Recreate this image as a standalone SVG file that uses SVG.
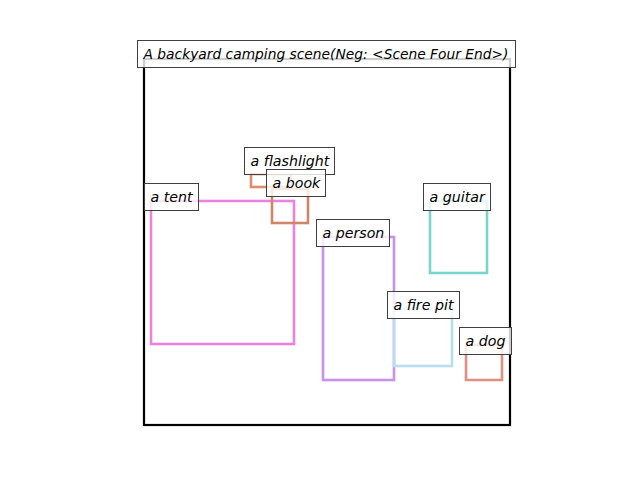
<svg xmlns="http://www.w3.org/2000/svg" width="640" height="480" viewBox="0 0 640 480">
<style>
.bb{fill:none;stroke-width:2.6}
.lb{fill:#ffffff;fill-opacity:0.8;stroke:#3f3f3f;stroke-width:1}
.t{font-family:"DejaVu Sans",sans-serif;font-style:italic;font-size:14.2px;fill:#000}
.tt{font-size:13.8px}
</style>
<rect x="0" y="0" width="640" height="480" fill="#ffffff"/>
<rect x="144" y="59" width="366" height="366" fill="none" stroke="#000" stroke-width="2.2"/>
<g id="title">
<rect class="lb" x="137.5" y="40.5" width="378" height="27"/>
<text class="t tt" x="143.5" y="58.5" textLength="365" lengthAdjust="spacingAndGlyphs">A backyard camping scene(Neg: &lt;Scene Four End&gt;)</text>
</g>
<g id="connectors"></g>
<g id="tent">
<rect class="bb" x="151" y="201" width="143" height="143" stroke="#ea82de"/>
<rect class="lb" x="144.5" y="183.5" width="54" height="27"/>
<text class="t" x="150.5" y="201.5">a tent</text>
</g>
<g id="flashlight">
<rect class="bb" x="251" y="174" width="40" height="13" stroke="#dc8d6b"/>
<rect class="lb" x="244.5" y="147.5" width="90" height="27"/>
<text class="t" x="250.5" y="165.5">a flashlight</text>
</g>
<g id="book">
<rect class="bb" x="272" y="189" width="36" height="34" stroke="#cf8568"/>
<rect class="lb" x="266.5" y="169.5" width="59" height="27"/>
<text class="t" x="272.5" y="187.5">a book</text>
</g>
<g id="person">
<rect class="bb" x="323" y="237" width="71" height="143" stroke="#c992ea"/>
<rect class="lb" x="316.5" y="219.5" width="73" height="27"/>
<text class="t" x="322.5" y="237.5">a person</text>
</g>
<g id="guitar">
<rect class="bb" x="430" y="201" width="57" height="72" stroke="#78d6cb"/>
<rect class="lb" x="423.5" y="183.5" width="67" height="27"/>
<text class="t" x="429.5" y="201.5">a guitar</text>
</g>
<g id="firepit">
<rect class="bb" x="394" y="309" width="58" height="57" stroke="#b8ddf1"/>
<rect class="lb" x="387.5" y="291.5" width="72" height="27"/>
<text class="t" x="393.5" y="309.5">a fire pit</text>
</g>
<g id="dog">
<rect class="bb" x="466" y="345" width="36" height="35" stroke="#df9083"/>
<rect class="lb" x="459.5" y="327.5" width="52" height="27"/>
<text class="t" x="465.5" y="345.5">a dog</text>
</g>
</svg>
